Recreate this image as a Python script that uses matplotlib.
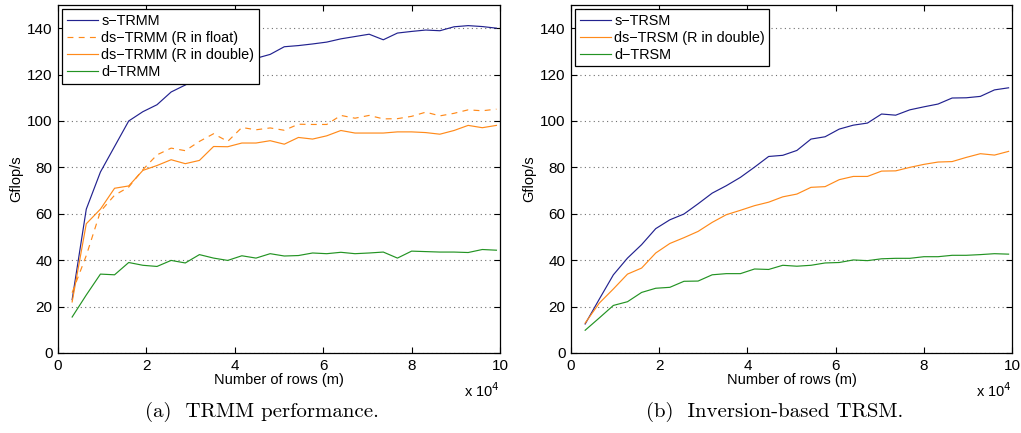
import matplotlib
matplotlib.use("Agg")
from matplotlib import pyplot as plt

# ----------------- data -----------------
rows = [3200, 6400, 9600, 12800, 16000, 19200, 22400, 25600, 28800, 32000,
        35200, 38400, 41600, 44800, 48000, 51200, 54400, 57600, 60800, 64000,
        67200, 70400, 73600, 76800, 80000, 83200, 86400, 89600, 92800, 96000, 99200]

s_trmm = [23, 62, 78, 89, 100, 104, 107, 112.5, 115.5, 119, 121, 123, 125, 127,
          128.7, 132, 132.5, 133.2, 134, 135.4, 136.4, 137.4, 135, 137.9, 138.6,
          139.2, 138.9, 140.6, 141.1, 140.7, 140]
ds_trmm_float = [26, 42, 61, 68, 71.5, 79, 85.4, 88.3, 87.2, 91.2, 94.5, 91.2, 97.2,
                 96.2, 97, 96, 98.6, 98.5, 98.5, 102.4, 101.2, 102.4, 100.9, 101,
                 102, 103.8, 102.2, 103.3, 104.8, 104.4, 105.1]
ds_trmm_double = [22, 55.7, 62, 71, 72, 78.7, 80.8, 83.3, 81.6, 83, 89, 88.9, 90.5,
                  90.5, 91.5, 90, 92.9, 92.2, 93.6, 95.9, 94.8, 94.8, 94.8, 95.3,
                  95.3, 95, 94.3, 95.9, 98.1, 97.1, 98.1]
d_trmm = [15.5, 25, 34, 33.7, 39, 37.8, 37.3, 39.9, 38.8, 42.4, 40.9, 39.9, 41.9,
          40.9, 42.8, 41.8, 42, 43.1, 42.8, 43.4, 42.8, 43.1, 43.5, 40.9, 43.9,
          43.7, 43.5, 43.5, 43.3, 44.6, 44.3]

s_trsm = [12.5, 23.2, 33.7, 40.9, 46.7, 53.6, 57.4, 59.9, 64.3, 68.9, 72.1, 75.7,
          80.1, 84.7, 85.2, 87.3, 92.2, 93.2, 96.5, 98.2, 99.1, 103, 102.5, 104.8,
          106.1, 107.3, 109.9, 110, 110.6, 113.4, 114.3]
ds_trsm = [12.9, 21.5, 27.6, 34, 36.6, 43.1, 47.2, 49.7, 52.4, 56.3, 59.6, 61.5,
           63.5, 65, 67.3, 68.5, 71.4, 71.7, 74.7, 76.1, 76.1, 78.4, 78.5, 80,
           81.3, 82.3, 82.5, 84.3, 85.9, 85.3, 86.9]
d_trsm = [9.8, 15.1, 20.5, 22.1, 26.1, 27.9, 28.3, 30.9, 31, 33.7, 34.2, 34.2,
          36.2, 36, 37.8, 37.4, 37.8, 38.8, 39, 40.1, 39.8, 40.6, 40.8, 40.8,
          41.5, 41.5, 42.1, 42.1, 42.4, 42.8, 42.6]

xticks = [0, 2, 4, 6, 8, 10]
yticks = [0, 20, 40, 60, 80, 100, 120, 140]

BLUE = '#22228f'
ORANGE = '#ff8a1a'
GREEN = '#239323'

plt.rcParams['font.family'] = ['Liberation Sans', 'DejaVu Sans']
plt.rcParams['axes.unicode_minus'] = True

fig = plt.figure(figsize=(10.21, 4.33), dpi=100)
ax1 = fig.add_axes([0.0568, 0.1848, 0.4329, 0.8037])
ax2 = fig.add_axes([0.5593, 0.1848, 0.4320, 0.8037])

xs = [r / 1e4 for r in rows]
lw = 0.85

ax1.plot(xs, s_trmm, color=BLUE, lw=lw, label='s\u2212TRMM')
ax1.plot(xs, ds_trmm_float, color=ORANGE, lw=lw, linestyle=(0, (5, 4.5)),
         label='ds\u2212TRMM (R in float)')
ax1.plot(xs, ds_trmm_double, color=ORANGE, lw=lw, label='ds\u2212TRMM (R in double)')
ax1.plot(xs, d_trmm, color=GREEN, lw=lw, label='d\u2212TRMM')

ax2.plot(xs, s_trsm, color=BLUE, lw=lw, label='s\u2212TRSM')
ax2.plot(xs, ds_trsm, color=ORANGE, lw=lw, label='ds\u2212TRSM (R in double)')
ax2.plot(xs, d_trsm, color=GREEN, lw=lw, label='d\u2212TRSM')

# caption centre, in axes fraction (captions sit a bit left of axes centre)
captions = [('(a)  TRMM performance.', 0.462), ('(b)  Inversion-based TRSM.', 0.462)]
for ax, (cap, cx) in zip([ax1, ax2], captions):
    ax.set_xlim(0, 10)
    ax.set_ylim(0, 150)
    ax.set_xticks(xticks)
    ax.set_yticks(yticks)
    ax.tick_params(direction='in', top=True, right=True, length=4, width=0.8,
                   labelsize=11, pad=4)
    for sp in ax.spines.values():
        sp.set_linewidth(0.9)
    ax.yaxis.grid(True, linestyle=(0, (1, 3)), color='#707070', linewidth=0.8)
    ax.set_xlabel('Number of rows (m)', fontsize=10.5, labelpad=0)
    ax.set_ylabel('Gflop/s', fontsize=10.5, labelpad=3)
    ax.text(1.0, -0.08, 'x 10$^4$', transform=ax.transAxes, ha='right', va='top',
            fontsize=10.5)
    ax.text(cx, -0.14, cap, transform=ax.transAxes, ha='center', va='top',
            fontsize=15, family='cmr10')
    leg = ax.legend(loc='upper left', fontsize=10.4, handlelength=2.2,
                    handletextpad=0.2, labelspacing=0.22, borderpad=0.3,
                    borderaxespad=0.3, fancybox=False, framealpha=1)
    leg.get_frame().set_edgecolor('black')
    leg.get_frame().set_linewidth(0.9)

plt.savefig('out.png', dpi=100)
plt.close()
